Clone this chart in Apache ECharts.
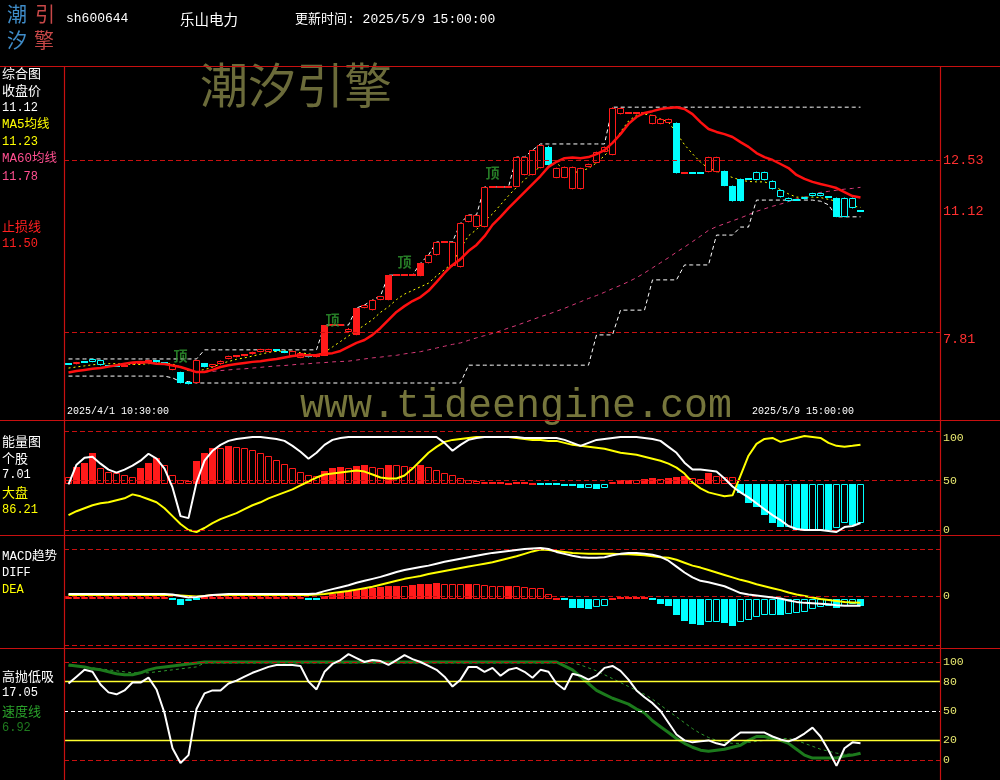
<!DOCTYPE html>
<html><head><meta charset="utf-8">
<script src="https://cdn.jsdelivr.net/npm/echarts/dist/echarts.min.js"></script>
<style>html,body{margin:0;padding:0;background:#000;}#c{width:1000px;height:780px;}</style>
</head><body><div id="c"></div>
<script>
// ---------------- DATA ----------------
const stockCode = 'sh600644';
const stockName = '乐山电力';
const updateTime = '更新时间: 2025/5/9 15:00:00';
const dateLabels = ['2025/4/1 10:30:00', '2025/5/9 15:00:00'];

// 60-minute bars, 2025/4/1 10:30 .. 2025/5/9 15:00
const open = [6.93,6.93,7.00,6.99,6.90,6.89,6.88,6.87,6.92,6.93, 6.98,7.01,6.96,6.77,6.71,6.44,6.41,6.95,6.85,6.92,
  7.07,7.12,7.15,7.20,7.26,7.27,7.32,7.29,7.15,7.10, 7.20,7.12,7.16,8.00,8.00,7.82,7.73,8.47,8.41,8.69,
  8.69,9.37,9.37,9.37,9.35,9.70,9.92,10.28,9.62,9.59, 10.83,10.69,10.69,11.79,11.79,11.79,11.79,12.12,12.12,12.31,
  12.90,12.04,12.04,11.73,11.73,12.34,12.45,12.75,12.67,13.79, 13.82,13.82,13.82,13.52,13.52,13.55,13.55,12.17,12.17,12.17,
  12.20,12.20,12.23,11.82,12.01,12.01,11.98,11.98,11.73,11.51, 11.40,11.43,11.46,11.54,11.54,11.51,11.49,10.97,11.21,11.12];
const close = [6.91,6.98,6.97,7.07,7.04,6.87,6.87,6.88,6.95,6.96, 7.04,6.98,6.92,6.90,6.42,6.38,7.04,6.85,6.92,7.02,
  7.15,7.16,7.18,7.26,7.34,7.34,7.28,7.24,7.29,7.23, 7.12,7.16,8.00,8.00,8.00,7.90,8.47,8.55,8.69,8.80,
  9.37,9.37,9.37,9.37,9.70,9.92,10.28,10.28,10.28,10.80, 11.02,11.02,11.79,11.79,11.79,11.79,12.61,12.61,12.80,12.94,
  12.40,12.31,12.34,12.34,12.31,12.42,12.75,12.89,13.96,13.96, 13.82,13.82,13.82,13.76,13.66,13.66,12.17,12.17,12.17,12.17,
  12.61,12.61,11.82,11.40,11.40,12.01,12.20,12.20,11.96,11.71, 11.49,11.43,11.51,11.62,11.62,11.51,10.97,11.49,11.49,11.12];
const low = [6.90,6.92,6.96,6.98,6.89,6.86,6.86,6.86,6.91,6.92, 6.97,6.97,6.91,6.76,6.40,6.37,6.40,6.84,6.84,6.91,
  7.06,7.11,7.14,7.19,7.25,7.26,7.27,7.23,7.14,7.09, 7.11,7.11,7.15,8.00,8.00,7.80,7.72,8.46,8.40,8.68,
  8.68,9.37,9.37,9.37,9.34,9.69,9.91,10.28,9.60,9.58, 10.82,10.68,10.68,11.79,11.79,11.79,11.78,12.11,12.11,12.30,
  12.38,12.03,12.03,11.72,11.72,12.33,12.44,12.74,12.66,13.78, 13.82,13.82,13.82,13.51,13.51,13.54,12.16,12.17,12.17,12.17,
  12.19,12.19,11.81,11.39,11.39,12.01,11.97,11.97,11.72,11.50, 11.39,11.43,11.45,11.53,11.53,11.51,10.96,10.96,11.20,11.12];
const high = [6.94,6.99,7.01,7.08,7.05,6.90,6.89,6.89,6.96,6.97, 7.05,7.02,6.97,6.91,6.72,6.45,7.05,6.96,6.93,7.03,
  7.16,7.17,7.19,7.27,7.35,7.35,7.33,7.30,7.30,7.24, 7.21,7.17,8.00,8.00,8.00,7.92,8.47,8.56,8.70,8.80,
  9.37,9.37,9.37,9.37,9.70,9.93,10.28,10.28,10.28,10.80, 11.03,11.03,11.79,11.79,11.79,11.79,12.62,12.62,12.81,12.95,
  12.92,12.32,12.35,12.35,12.32,12.43,12.76,12.90,13.98,13.97, 13.82,13.82,13.82,13.77,13.67,13.67,13.56,12.17,12.17,12.17,
  12.62,12.62,12.24,11.83,12.02,12.01,12.21,12.21,11.97,11.72, 11.50,11.43,11.52,11.63,11.63,11.51,11.50,11.50,11.50,11.12];
// candle type: r = up (hollow red), R = limit-up (solid red), c = weak (hollow cyan), C = down (solid cyan)
const candleType = 'CrCccCCrrr' + 'RCCrCCrCrr' + 'rrrrrrCCrr' + 'CrRrrrRrrr' + 'RrrrRrrrrr' +
                   'rrrrrrrrrr' + 'Crrrrrrrrr' + 'rrrrrrCrCC' + 'rrCCCCcccc' + 'cCcccCCccC';

const stopLine = [6.70,6.74,6.77,6.80,6.82,6.86,6.90,6.94,6.97,6.99, 6.97,6.94,6.93,6.89,6.85,6.78,6.71,6.71,6.77,6.85,
  6.90,6.93,6.96,6.99,7.01,7.04,7.07,7.11,7.15,7.17, 7.17,7.18,7.21,7.23,7.29,7.40,7.51,7.59,7.73,7.92,
  8.14,8.36,8.52,8.66,8.77,8.94,9.18,9.43,9.65,9.81, 10.03,10.20,10.44,10.75,10.97,11.21,11.43,11.65,11.87,12.09,
  12.34,12.48,12.58,12.60,12.58,12.61,12.69,12.80,13.00,13.24, 13.52,13.71,13.82,13.87,13.93,13.96,13.98,13.93,13.79,13.57,
  13.38,13.30,13.24,13.16,13.02,12.89,12.72,12.61,12.53,12.42, 12.31,12.12,12.01,11.93,11.87,11.82,11.76,11.65,11.54,11.50];
const ma5 = [6.82,6.85,6.88,6.91,6.93,6.94,6.94,6.93,6.92,6.92, 6.94,6.96,6.96,6.93,6.85,6.75,6.74,6.78,6.84,6.94,
  7.00,7.06,7.10,7.15,7.20,7.25,7.28,7.29,7.28,7.24, 7.21,7.18,7.25,7.40,7.55,7.70,7.85,8.00,8.15,8.35,
  8.50,8.70,8.85,8.95,9.05,9.15,9.35,9.52,9.70,10.10, 10.45,10.62,10.85,11.05,11.30,11.55,11.78,11.98,12.20,12.34,
  12.50,12.45,12.25,12.18,12.22,12.30,12.45,12.65,12.89,13.30, 13.60,13.76,13.79,13.75,13.66,13.57,13.27,12.95,12.70,12.47,
  12.30,12.22,12.13,12.05,11.98,11.94,11.93,11.93,11.85,11.71, 11.60,11.51,11.51,11.51,11.50,11.45,11.40,11.35,11.27,11.23];
const ma60Start = 17;
const ma60 = [6.71,6.73,6.75,6.77,6.79,6.80,6.82,6.84,6.86,6.88, 6.89,6.91,6.93,6.94,6.96,6.97,6.99,7.00,7.01,7.04,
  7.07,7.10,7.12,7.15,7.17,7.21,7.24,7.27,7.32,7.37, 7.42,7.47,7.51,7.58,7.65,7.71,7.77,7.84,7.92,7.99,
  8.07,8.15,8.23,8.30,8.38,8.46,8.55,8.64,8.73,8.81, 8.90,9.00,9.09,9.19,9.30,9.43,9.57,9.71,9.85,10.00,
  10.14,10.29,10.44,10.60,10.70,10.78,10.86,10.94,11.03,11.12, 11.19,11.26,11.32,11.39,11.46,11.51,11.58,11.64,11.67,11.70,
  11.73,11.75,11.78];
const upperBand = [7.07,7.07,7.07,7.07,7.07,7.07,7.07,7.07,7.07,7.07, 7.07,7.07,7.07,7.07,7.07,7.07,7.07,7.32,7.32,7.32,
  7.32,7.32,7.32,7.32,7.32,7.32,7.32,7.32,7.32,7.32, 7.32,7.32,8.00,8.00,8.00,8.00,8.47,8.55,8.69,8.80,
  9.37,9.37,9.37,9.37,9.70,9.92,10.28,10.28,10.28,10.80, 11.02,11.02,11.79,11.79,11.79,11.79,12.61,12.61,12.80,12.97,
  12.97,12.97,12.97,12.97,12.97,12.97,12.97,12.97,13.98,13.98, 13.98,13.98,13.98,13.98,13.98,13.98,13.98,13.98,13.98,13.98,
  13.98,13.98,13.98,13.98,13.98,13.98,13.98,13.98,13.98,13.98, 13.98,13.98,13.98,13.98,13.98,13.98,13.98,13.98,13.98,13.98];
const lowerBand = [6.60,6.60,6.60,6.60,6.60,6.60,6.60,6.60,6.60,6.60, 6.60,6.60,6.60,6.55,6.45,6.45,6.41,6.41,6.41,6.41,
  6.41,6.41,6.41,6.41,6.41,6.41,6.41,6.41,6.41,6.41, 6.41,6.41,6.41,6.41,6.41,6.41,6.41,6.41,6.41,6.41,
  6.41,6.41,6.41,6.41,6.41,6.41,6.41,6.41,6.41,6.41, 6.90,6.90,6.90,6.90,6.90,6.90,6.90,6.90,6.90,6.90,
  6.90,6.90,6.90,6.90,6.90,6.90,7.73,7.73,7.73,8.41, 8.41,8.41,8.41,9.24,9.24,9.24,9.24,9.65,9.65,9.65,
  9.65,10.47,10.47,10.47,10.69,10.69,11.43,11.43,11.43,11.43, 11.43,11.43,11.43,11.43,11.40,11.30,10.97,10.97,10.97,10.97];
const topMarks = [[14, 7.15], [33, 8.14], [42, 9.73], [53, 12.17]];
const priceLevels = [12.53, 7.81];
const lastClose = 11.12;

// 能量图
const energyBars = [54,64,68,78,63,59,58,56,54,63, 68,73,66,56,50,49,70,78,83,83,
  85,84,83,81,78,75,71,67,63,59, 56,55,60,63,64,63,65,66,64,63,
  66,66,65,64,66,64,61,58,56,53, 50,49,48,47,47,46.5,47,47,46.5,45.5,
  45,45.5,44.5,44,42,42,41.5,42,48,50, 51,51,52,53,52,53,54,55,53,52,
  57.6,55,54,54,37.5,27,23,15,7,3, 3.5,0,-0.3,-0.2,-0.2,-0.5,2,7.5,5,7];
const energyStock = [46,66,73,74,67,61,58,61,65,70, 77,72,62,43,14,12,48,70,80,86,
  90,92,93,94,94,93,92,90,85,79, 72,78,86,91,93,94,94,94,94,94,
  94,94,94,94,94,94,94,88,80,86, 91,93,94,94,94,94,94,93,93,93,
  93,93,91,88,85,88,91,92,93,94, 94,94,93,92,90,84,78,68,61,61,
  60,59,52,44,38,33,27,21,15,10, 4,1,0,0,0,-1,-2,3,4,7.01];
const energyMarket = [15,19,22,25,27,28,30,32,36,34, 31,28,22,14,6,0,-2,2,7,11,
  14,17,21,25,28,32,35,38,41,45, 49,53,56,57,58,59,60,59,56,53,
  52,52,55,62,70,78,84,89,91,92, 93,94,94,94,94,94,93,92,91,91,
  90,90,88,86,85,84,83,82,80,78, 77,76,74,72,70,67,63,57,48,42,
  38,36,34,35,55,75,87,92,93,89, 91,93,95,94,93,88,85,84,85,86.21];
const energyLevels = [100, 50, 0];

// MACD趋势
const diff = [0.04,0.04,0.04,0.04,0.04,0.04,0.04,0.04,0.04,0.04, 0.04,0.04,0.04,0.03,0.00,-0.03,-0.02,0.00,0.02,0.03,
  0.04,0.04,0.04,0.04,0.04,0.04,0.04,0.04,0.04,0.04, 0.04,0.05,0.10,0.14,0.18,0.22,0.27,0.31,0.35,0.39,
  0.44,0.49,0.53,0.56,0.59,0.62,0.66,0.70,0.73,0.76, 0.79,0.82,0.85,0.88,0.90,0.92,0.94,0.96,0.97,0.98,
  0.96,0.90,0.86,0.82,0.79,0.78,0.78,0.79,0.83,0.86, 0.88,0.88,0.86,0.84,0.80,0.72,0.60,0.48,0.38,0.31,
  0.28,0.24,0.20,0.13,0.06,0.03,0.01,-0.01,-0.03,-0.05, -0.09,-0.12,-0.14,-0.15,-0.16,-0.17,-0.19,-0.20,-0.20,-0.20];
const dea = [0.02,0.02,0.02,0.02,0.02,0.02,0.02,0.02,0.02,0.02, 0.02,0.02,0.02,0.02,0.01,0.00,-0.01,0.00,0.02,0.02,
  0.02,0.02,0.02,0.02,0.02,0.02,0.02,0.02,0.02,0.02, 0.02,0.03,0.04,0.06,0.08,0.10,0.13,0.16,0.19,0.23,
  0.27,0.31,0.35,0.38,0.41,0.45,0.48,0.51,0.54,0.57, 0.60,0.63,0.66,0.69,0.73,0.77,0.81,0.86,0.91,0.95,
  0.94,0.92,0.90,0.88,0.87,0.86,0.86,0.86,0.86,0.85, 0.85,0.84,0.83,0.81,0.79,0.78,0.74,0.68,0.62,0.58,
  0.53,0.48,0.43,0.38,0.33,0.29,0.24,0.20,0.16,0.12, 0.07,0.03,0.00,-0.03,-0.06,-0.08,-0.10,-0.12,-0.13,-0.14];
const macdHist = [0.04,0.04,0.04,0.04,0.04,0.04,0.04,0.04,0.04,0.04, 0.04,0.04,0.04,-0.02,-0.12,-0.04,-0.02,0.04,0.04,0.04,
  0.04,0.04,0.04,0.04,0.04,0.04,0.04,0.04,0.04,0.04, -0.03,-0.03,0.06,0.10,0.14,0.16,0.18,0.20,0.22,0.24,
  0.26,0.27,0.27,0.28,0.30,0.31,0.32,0.31,0.30,0.30, 0.31,0.30,0.28,0.27,0.26,0.27,0.26,0.24,0.22,0.22,
  0.10,0.00,-0.03,-0.18,-0.19,-0.20,-0.16,-0.14,0.00,0.02, 0.04,0.02,0.01,-0.03,-0.10,-0.14,-0.33,-0.45,-0.51,-0.53,
  -0.47,-0.47,-0.49,-0.55,-0.47,-0.43,-0.37,-0.33,-0.33,-0.335, -0.31,-0.29,-0.27,-0.20,-0.16,-0.14,-0.18,-0.14,-0.10,-0.14];
const macdLevels = [0.96, 0, -1.0];

// 高抛低吸
const hsdx = [78,85,92,90,77,69,67,71,79,79, 84,72,48,12,-3,5,52,68,71,71,
  78,81,85,89,92,95,97,97,97,96, 80,72,90,98,102,108,104,100,102,101,
  97,102,107,103,100,96,92,85,75,82, 95,95,90,94,86,92,94,90,84,92,
  90,78,72,88,86,82,86,94,96,91, 82,71,64,58,50,38,26,20,18,19,
  20,17,15,22,28,28,28,28,24,21, 19,22,27,33,24,10,-6,12,18,17.05];
const speed = [97,96,95,93,92,90,88,87,87,89, 92,94,95,96,97,98,99,100,100,100,
  100,100,100,100,100,100,100,100,100,100, 100,100,100,100,100,100,100,100,100,100,
  100,100,100,100,100,100,100,100,100,100, 100,100,100,100,100,100,100,100,100,100,
  100,100,96,92,85,78,71,67,63,60, 57,52,48,40,34,28,22,17,13,10,
  9,10,11,13,15,20,24,24,22,20, 17,11,5,2,2,2,2,4,5,6.92];
const speedAvg = [96,96,95,94,93,92,91,90,89,89, 89,90,91,92,93,94,95,99,99,99,
  99,99,99,99,99,99,99,99,99,99, 99,99,99,99,99,99,99,99,99,99,
  99,99,99,99,99,99,99,99,99,99, 99,99,99,99,99,99,99,99,99,99,
  99,99,99,99,97,94,91,87,83,79, 75,71,67,62,56,50,44,38,32,27,
  23,20,18,17,17,18,19,20,21,22, 22,20,17,14,11,9,7,6,6,6];
const hsdxLevels = [100, 80, 50, 20, 0];

// ---------------- CHART ----------------
const RED = '#ff1a1a', CYAN = '#00ffff', YEL = '#ffff00', LBL = '#e8e870', GRID_RED = '#c81010';
const ENERGY_BASE = 46, HIST_BASE = -0.06;
const MONO = '"Liberation Mono","Noto Sans CJK SC",monospace';
const CJK = '"Noto Sans CJK SC",sans-serif';
const XMIN = -0.5625, XMAX = 108.9375;
const panels = [
  {top: 67, height: 353, min: 5.395, max: 15.082},
  {top: 420, height: 115, min: -5.05, max: 111.1},
  {top: 535, height: 113, min: -1.061, max: 1.245},
  {top: 648, height: 132, min: -20.41, max: 114.29}
];

function candleItem(params, api) {
  const i = api.value(0), o = api.value(1), c = api.value(2), lo = api.value(3), hi = api.value(4), k = api.value(5);
  const col = k < 2 ? RED : CYAN;
  const filled = (k === 1 || k === 3);
  const bw = Math.round(api.size([1, 0])[0]) - 1;
  const pT = api.coord([i, Math.max(o, c)]), pB = api.coord([i, Math.min(o, c)]);
  const pH = api.coord([i, hi]), pL = api.coord([i, lo]);
  const xl = Math.round(pT[0] - bw / 2);
  const xc = xl + Math.floor(bw / 2) + 0.5;
  const ch = [];
  if (pL[1] - pH[1] > 1.5) ch.push({type: 'line', shape: {x1: xc, y1: pH[1], x2: xc, y2: pL[1]}, style: {stroke: col, lineWidth: 1}});
  const top = Math.round(pT[1]), bot = Math.round(pB[1]);
  if (bot - top < 2) ch.push({type: 'rect', shape: {x: xl, y: top - 1, width: bw, height: 2}, style: {fill: col}});
  else if (filled) ch.push({type: 'rect', shape: {x: xl, y: top, width: bw, height: bot - top}, style: {fill: col}});
  else ch.push({type: 'rect', shape: {x: xl + 0.5, y: top + 0.5, width: bw - 1, height: bot - top - 1}, style: {fill: '#000', stroke: col, lineWidth: 1}});
  return {type: 'group', children: ch};
}
function barItem(params, api) {
  const i = api.value(0), b = api.value(1), v = api.value(2), f = api.value(3);
  const col = v >= b ? RED : CYAN;
  const bw = Math.round(api.size([1, 0])[0]) - 1;
  const p0 = api.coord([i, b]), p1 = api.coord([i, v]);
  const xl = Math.round(p0[0] - bw / 2);
  const y0 = Math.round(Math.min(p0[1], p1[1])), y1 = Math.round(Math.max(p0[1], p1[1]));
  if (y1 - y0 < 2) return {type: 'rect', shape: {x: xl, y: y0 - 1, width: bw, height: 2}, style: {fill: col}};
  if (f) return {type: 'rect', shape: {x: xl, y: y0, width: bw, height: y1 - y0}, style: {fill: col}};
  return {type: 'rect', shape: {x: xl + 0.5, y: y0 + 0.5, width: bw - 1, height: y1 - y0 - 1}, style: {fill: '#000', stroke: col, lineWidth: 1}};
}
function barData(vals, base) {
  return vals.map((v, i) => {
    const prev = i > 0 ? Math.abs(vals[i - 1] - base) : Infinity;
    return [i, base, v, Math.abs(v - base) > prev ? 1 : 0];
  });
}
function line(k, vals, start, color, width, type, z) {
  return {type: 'line', xAxisIndex: k, yAxisIndex: k, data: vals.map((v, i) => [i + start, v]),
    showSymbol: false, symbol: 'none', silent: true, z: z || 3,
    lineStyle: {color: color, width: width, type: type || 'solid'}};
}
function hLine(v, color, type, text, labelColor, size, width) {
  return {yAxis: v, lineStyle: {color: color, type: type, width: width || 1},
    label: {show: !!text, formatter: text || '', position: 'end', distance: 3, color: labelColor,
      fontFamily: MONO, fontSize: size, lineHeight: 14}};
}

const series = [];
// main panel
const stopSeries = line(0, stopLine, 0, '#ff1010', 2.5, 'solid', 4);
stopSeries.markLine = {silent: true, symbol: ['none', 'none'], animation: false, data: [
  hLine(priceLevels[0], GRID_RED, [5, 3], String(priceLevels[0]), '#ff3030', 13.5),
  hLine(priceLevels[1], GRID_RED, [5, 3], '\n' + priceLevels[1], '#ff3030', 13.5),
  hLine(lastClose, 'rgba(0,0,0,0)', 'solid', String(lastClose), '#ff3030', 13.5)
]};
series.push(line(0, ma60, ma60Start, '#d83a78', 1, [4, 4], 2));
series.push(line(0, upperBand, 0, '#ffffff', 1, [4, 3], 2));
series.push(line(0, lowerBand, 0, '#ffffff', 1, [4, 3], 2));
series.push(line(0, ma5, 0, YEL, 1, [2, 3], 2));
series.push({type: 'custom', xAxisIndex: 0, yAxisIndex: 0, renderItem: candleItem, encode: {x: 0, y: [1, 2, 3, 4]},
  data: open.map((o, i) => [i, o, close[i], low[i], high[i], 'rRcC'.indexOf(candleType[i])]), z: 3, silent: true});
series.push(stopSeries);
series.push({type: 'scatter', xAxisIndex: 0, yAxisIndex: 0, data: topMarks, symbolSize: 1, silent: true, z: 6,
  itemStyle: {color: 'rgba(0,0,0,0)'},
  label: {show: true, formatter: '顶', position: 'inside', color: '#2f9a2f', fontSize: 14, fontFamily: CJK, fontWeight: 'bold'}});
// energy panel
series.push({type: 'custom', xAxisIndex: 1, yAxisIndex: 1, renderItem: barItem, encode: {x: 0, y: [1, 2]},
  data: barData(energyBars, ENERGY_BASE), z: 3, silent: true});
const eStock = line(1, energyStock, 0, '#ffffff', 2, 'solid', 5);
eStock.markLine = {silent: true, symbol: ['none', 'none'], animation: false, data: energyLevels.map(v =>
  hLine(v, GRID_RED, [5, 3], (v === 100 ? '\n' : '') + v, LBL, 11.5))};
series.push(eStock);
series.push(line(1, energyMarket, 0, YEL, 2, 'solid', 4));
// MACD panel
series.push({type: 'custom', xAxisIndex: 2, yAxisIndex: 2, renderItem: barItem, encode: {x: 0, y: [1, 2]},
  data: barData(macdHist.map(h => HIST_BASE + h), HIST_BASE), z: 3, silent: true});
const diffS = line(2, diff, 0, '#ffffff', 2, 'solid', 5);
diffS.markLine = {silent: true, symbol: ['none', 'none'], animation: false, data: macdLevels.map(v =>
  hLine(v, GRID_RED, [5, 3], v === 0 ? '0' : '', LBL, 11.5))};
series.push(line(2, dea, 0, YEL, 2, 'solid', 4));
series.push(diffS);
// 高抛低吸 panel
const hs = line(3, hsdx, 0, '#ffffff', 2, 'solid', 5);
hs.markLine = {silent: true, symbol: ['none', 'none'], animation: false, data: hsdxLevels.map(v => {
  if (v === 100 || v === 0) return hLine(v, GRID_RED, [5, 3], String(v), LBL, 11.5);
  if (v === 50) return hLine(v, '#ffffff', [4, 3], String(v), LBL, 11.5);
  return hLine(v, '#ffff30', 'solid', String(v), LBL, 11.5, 1.3);
})};
series.push(line(3, speedAvg, 0, '#2e9a2e', 1, [3, 3], 3));
series.push(line(3, speed, 0, '#1c7a1c', 3, 'solid', 4));
series.push(hs);

// text & frame graphics
function txt(x, y, s, color, size, font) {
  return {type: 'text', x: x, y: y, z: 100, silent: true,
    style: {text: s, fill: color, font: size + 'px ' + (font || MONO), textVerticalAlign: 'middle', textAlign: 'left'}};
}
function seg(x1, y1, x2, y2) {
  return {type: 'line', z: 90, silent: true, shape: {x1: x1, y1: y1, x2: x2, y2: y2}, style: {stroke: GRID_RED, lineWidth: 1.2}};
}
const graphics = [
  {type: 'text', x: 200, y: 85, z: 0, silent: true, style: {text: '潮汐引擎', fill: '#6b6b3a', font: '48px ' + CJK, textVerticalAlign: 'middle'}},
  {type: 'text', x: 300, y: 406, z: 0, silent: true, style: {text: 'www.tideengine.com', fill: '#76763c', font: '40px "Liberation Mono",monospace', textVerticalAlign: 'middle'}},
  seg(0, 66.5, 1000, 66.5), seg(0, 420.5, 1000, 420.5), seg(0, 535.5, 1000, 535.5), seg(0, 648.5, 1000, 648.5),
  seg(64.5, 66, 64.5, 780), seg(940.5, 66, 940.5, 780),
  txt(7, 14, '潮', '#3f8cc8', 20, CJK), txt(35, 14, '引', '#c84848', 20, CJK),
  txt(7, 40, '汐', '#3f8cc8', 20, CJK), txt(34, 40, '擎', '#c84848', 20, CJK),
  txt(66, 19, stockCode, '#ffffff', 13), txt(180, 19, stockName, '#ffffff', 14.5, CJK),
  txt(295, 20, updateTime, '#ffffff', 13),
  txt(2, 73, '综合图', '#ffffff', 13, CJK), txt(2, 90.5, '收盘价', '#ffffff', 13, CJK),
  txt(2, 108, lastClose.toFixed(2), '#ffffff', 12), txt(2, 125, 'MA5均线', YEL, 12.5),
  txt(2, 142, ma5[ma5.length - 1].toFixed(2), YEL, 12), txt(2, 159, 'MA60均线', '#ff4f8f', 12.5),
  txt(2, 176.5, ma60[ma60.length - 1].toFixed(2), '#ff4f8f', 12), txt(2, 226, '止损线', '#ff2020', 13, CJK),
  txt(2, 244, stopLine[stopLine.length - 1].toFixed(2), '#ff2020', 12),
  txt(67, 411, dateLabels[0], '#ffffff', 10), txt(752, 411, dateLabels[1], '#ffffff', 10),
  txt(2, 441, '能量图', '#ffffff', 13, CJK), txt(2, 458, '个股', '#ffffff', 13, CJK),
  txt(2, 475, energyStock[energyStock.length - 1].toFixed(2), '#ffffff', 12),
  txt(2, 492.5, '大盘', YEL, 13, CJK), txt(2, 510, energyMarket[energyMarket.length - 1].toFixed(2), YEL, 12),
  txt(2, 556.5, 'MACD趋势', '#ffffff', 12.5), txt(2, 573, 'DIFF', '#ffffff', 12), txt(2, 590, 'DEA', YEL, 12),
  txt(2, 676.5, '高抛低吸', '#ffffff', 13, CJK), txt(2, 693, hsdx[hsdx.length - 1].toFixed(2), '#ffffff', 12),
  txt(2, 711, '速度线', '#2aa02a', 13, CJK), txt(2, 727.5, speed[speed.length - 1].toFixed(2), '#1f7a1f', 12)
];

const chart = echarts.init(document.getElementById('c'), null, {renderer: 'canvas'});
chart.setOption({
  backgroundColor: '#000',
  animation: false,
  grid: panels.map(p => ({left: 64, width: 876, top: p.top, height: p.height, show: false})),
  xAxis: panels.map((p, k) => ({type: 'value', gridIndex: k, min: XMIN, max: XMAX, show: false})),
  yAxis: panels.map((p, k) => ({type: 'value', gridIndex: k, min: p.min, max: p.max, show: false, scale: true})),
  series: series,
  graphic: graphics
});
</script></body></html>
